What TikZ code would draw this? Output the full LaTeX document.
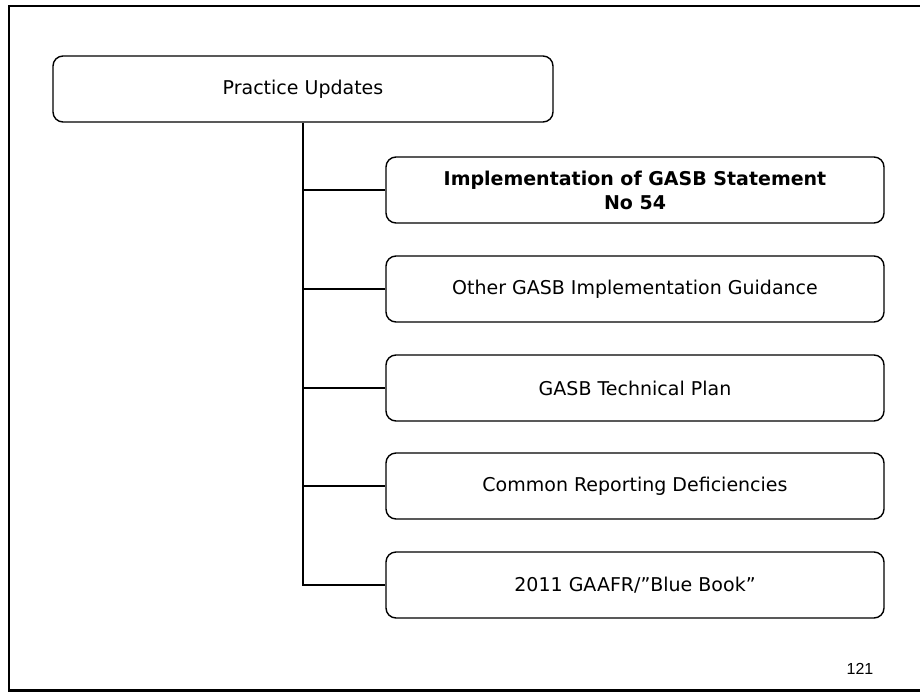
\documentclass[tikz,border=0pt]{standalone}
\usepackage{fontspec}
\setmainfont{DejaVu Sans}
\newfontfamily\pagefont{Liberation Sans}

\tikzset{
  topic/.style={draw, line width=1.4pt, rounded corners=10pt,
    minimum width=500pt, minimum height=66pt, inner sep=0pt,
    font=\fontsize{19}{24}\selectfont, align=center},
  subtopic/.style={topic, minimum width=498pt},
  branch/.style={line width=2.5pt}
}

\begin{document}
\begin{tikzpicture}[x=1pt, y=-1pt]
  \useasboundingbox (0,0) rectangle (920,693);

  % page frame
  \draw[line width=2.5pt] (920,6) -- (9,6) -- (9,690.5) -- (920,690.5);

  \node[topic] (practice) at (303,89) {Practice Updates};

  \node[subtopic] (gasb54)   at (635,190) {\textbf{Implementation of GASB Statement}\\\textbf{No 54}};
  \node[subtopic] (guidance) at (635,289) {Other GASB Implementation Guidance};
  \node[subtopic] (techplan) at (635,388) {GASB Technical Plan};
  \node[subtopic] (deficits) at (635,486) {Common Reporting Deficiencies};
  \node[subtopic] (bluebook) at (635,585) {2011 GAAFR/''Blue Book''};

  % tree lines
  \draw[branch] (practice.south) |- (bluebook.west);
  \draw[branch] (practice.south |- gasb54.west)   -- (gasb54.west);
  \draw[branch] (practice.south |- guidance.west) -- (guidance.west);
  \draw[branch] (practice.south |- techplan.west) -- (techplan.west);
  \draw[branch] (practice.south |- deficits.west) -- (deficits.west);

  \node[font=\pagefont\fontsize{16}{19}\selectfont] (pageno) at (860,669) {121};
\end{tikzpicture}
\end{document}
